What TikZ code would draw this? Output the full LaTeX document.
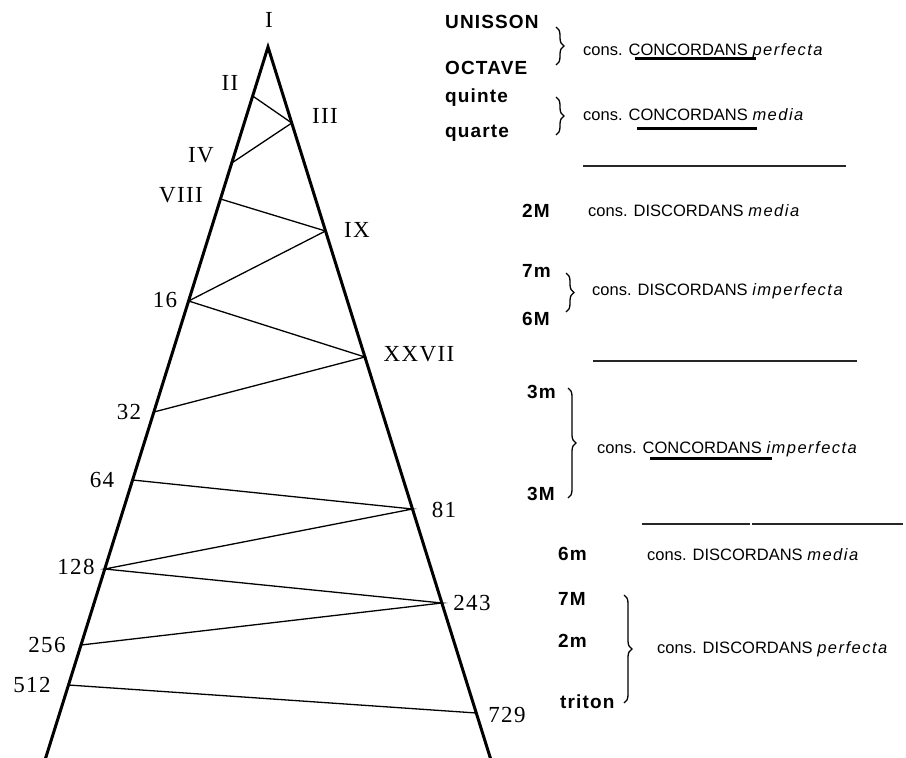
\documentclass[tikz,border=0pt]{standalone}
\usepackage{fontspec}
\setmainfont{Liberation Serif}
\setsansfont{Liberation Sans}
\usetikzlibrary{decorations.pathreplacing}
\newcommand\ital[1]{{\itshape\addfontfeature{LetterSpace=9}#1}}
\tikzset{
 side/.style={line width=3pt},
 zig/.style={line width=1.3pt},
 rom/.style={font=\fontsize{23}{23}\selectfont\addfontfeature{LetterSpace=6}, inner sep=0pt},
 lab/.style={font=\fontsize{19}{19}\selectfont\sffamily\bfseries\addfontfeature{LetterSpace=6}, anchor=base west, inner sep=0pt},
 cons/.style={font=\fontsize{16.5}{16.5}\selectfont\sffamily, anchor=base west, inner sep=0pt},
 uline/.style={line width=3pt},
 sepline/.style={line width=1.5pt, black!85},
 br/.style={decorate, decoration={brace, amplitude=8pt}, line width=1.3pt},
}
\begin{document}
\begin{tikzpicture}[x=1pt,y=-1pt]
\useasboundingbox (0,0) rectangle (906,758);
% triangle
\coordinate (A) at (268,47);
\coordinate (BL) at (41.9,770);
\coordinate (BR) at (494.1,770);
\coordinate (L2) at (252.7,96);
\coordinate (L4) at (231.7,163);
\coordinate (L8) at (220.5,199);
\coordinate (L16) at (188.6,301);
\coordinate (L32) at (153.9,412);
\coordinate (L64) at (132.6,480);
\coordinate (L128) at (104.8,569);
\coordinate (L256) at (81,645);
\coordinate (L512) at (68.5,685);
\coordinate (R3) at (291.8,123);
\coordinate (R9) at (325.5,231);
\coordinate (R27) at (364.9,357);
\coordinate (R81) at (412.5,509);
\coordinate (R243) at (441.9,603);
\coordinate (R729) at (476.3,713);
\draw[zig] (L2) -- (R3) -- (L4);
\draw[zig] (L8) -- (R9) -- (L16) -- (R27) -- (L32);
\draw[zig] (L64) -- (R81) -- (L128) -- (R243) -- (L256);
\draw[zig] (L512) -- (R729);
\draw[side] (BL) -- (A) -- (BR);
% triangle labels
\node[rom] (nI) at (269,20) {I};
\node[rom] (nII) at (230,83) {II};
\node[rom] (nIII) at (325,116) {III};
\node[rom] (nIV) at (201,155) {IV};
\node[rom] (nVIII) at (181,195) {VIII};
\node[rom] (nIX) at (357,230) {IX};
\node[rom] (n16) at (165,300) {16};
\node[rom] (nXXVII) at (419,354) {XXVII};
\node[rom] (n32) at (129,412) {32};
\node[rom] (n64) at (102,480) {64};
\node[rom] (n81) at (444,510) {81};
\node[rom] (n128) at (76,567) {128};
\node[rom] (n243) at (472,603) {243};
\node[rom] (n256) at (47,645) {256};
\node[rom] (n512) at (32,685) {512};
\node[rom] (n729) at (507,715) {729};
% right column labels
\node[lab] (uni) at (445,28) {UNISSON};
\node[lab] (oct) at (445,74) {OCTAVE};
\node[lab] (qui) at (445,102) {quinte};
\node[lab] (qua) at (445,137) {quarte};
\node[lab] (m2M) at (522,217) {2M};
\node[lab] (m7m) at (522,277) {7m};
\node[lab] (m6M) at (522,325) {6M};
\node[lab] (m3m) at (527,398) {3m};
\node[lab] (m3M) at (527,500) {3M};
\node[lab] (m6m) at (558,560) {6m};
\node[lab] (m7M) at (558,605) {7M};
\node[lab] (m2m) at (558,647) {2m};
\node[lab] (tri) at (560,708) {triton};
% braces
\coordinate (b1t) at (556,27); \coordinate (b1b) at (556,65);
\coordinate (b2t) at (556,97); \coordinate (b2b) at (556,135);
\coordinate (b3t) at (566,273); \coordinate (b3b) at (566,312);
\coordinate (b4t) at (568,388); \coordinate (b4b) at (568,498);
\coordinate (b5t) at (624,595); \coordinate (b5b) at (624,703);
\draw[br] (b1t) -- (b1b);
\draw[br] (b2t) -- (b2b);
\draw[br] (b3t) -- (b3b);
\draw[br] (b4t) -- (b4b);
\draw[br] (b5t) -- (b5b);
% category texts
\node[cons] (c1) at (583,55) {cons. CONCORDANS \ital{perfecta}};
\node[cons] (c2) at (583,120) {cons. CONCORDANS \ital{media}};
\node[cons] (c3) at (588,216) {cons. DISCORDANS \ital{media}};
\node[cons] (c4) at (592,295) {cons. DISCORDANS \ital{imperfecta}};
\node[cons] (c5) at (597,453) {cons. CONCORDANS \ital{imperfecta}};
\node[cons] (c6) at (647,560) {cons. DISCORDANS \ital{media}};
\node[cons] (c7) at (657,653) {cons. DISCORDANS \ital{perfecta}};
% underlines
\coordinate (u1a) at (635,58.5); \coordinate (u1b) at (756,58.5);
\coordinate (u2a) at (637,128); \coordinate (u2b) at (757,128);
\coordinate (u3a) at (650,458); \coordinate (u3b) at (772,458);
\draw[uline] (u1a) -- (u1b);
\draw[uline] (u2a) -- (u2b);
\draw[uline] (u3a) -- (u3b);
% separators
\coordinate (s1a) at (583,166); \coordinate (s1b) at (846,166);
\coordinate (s2a) at (593,361); \coordinate (s2b) at (857,361);
\coordinate (s3a) at (642,524); \coordinate (s3b) at (750,524);
\coordinate (s4a) at (752,524); \coordinate (s4b) at (903,524);
\draw[sepline] (s1a) -- (s1b);
\draw[sepline] (s2a) -- (s2b);
\draw[sepline] (s3a) -- (s3b);
\draw[sepline] (s4a) -- (s4b);
\end{tikzpicture}
\end{document}
